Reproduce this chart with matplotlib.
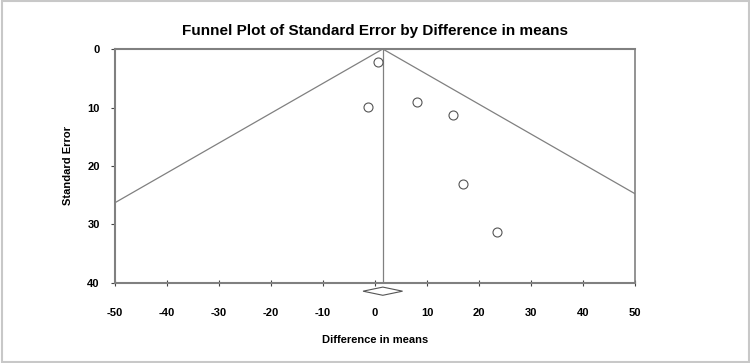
import matplotlib
matplotlib.use("Agg")
import matplotlib.pyplot as plt
from matplotlib.patches import Rectangle, Polygon

plt.rcParams['font.family'] = ['Liberation Sans', 'DejaVu Sans']
plt.rcParams['axes.unicode_minus'] = False

# studies: difference in means and standard error
diff_means = [0.6, -1.4, 8.0, 15.0, 17.0, 23.5]
std_err = [2.3, 9.9, 9.1, 11.2, 23.1, 31.2]

pooled = 1.5        # overall effect
pooled_half = 3.8   # half width of the summary diamond
se_max = 40
x_ticks = [-50, -40, -30, -20, -10, 0, 10, 20, 30, 40, 50]
y_ticks = [0, 10, 20, 30, 40]

grey = '#808080'

fig = plt.figure(figsize=(7.5, 3.63), dpi=100)
ax = fig.add_axes([0.1533, 0.2204, 0.6934, 0.6446])

# funnel lines (95% limits)
ax.plot([pooled - 1.96 * se_max, pooled, pooled + 1.96 * se_max], [se_max, 0, se_max],
        color=grey, lw=0.9)
ax.plot([pooled, pooled], [0, se_max], color=grey, lw=0.9)

ax.scatter(diff_means, std_err, s=42, facecolors='white', edgecolors='#555555',
           linewidths=0.8, zorder=3)

# summary diamond below the axis
dy = 0.7
yd = 41.4
diamond = Polygon([[pooled - pooled_half, yd], [pooled, yd - dy],
                   [pooled + pooled_half, yd], [pooled, yd + dy]],
                  closed=True, facecolor='white', edgecolor='#555555', lw=0.8,
                  clip_on=False)
ax.add_patch(diamond)

ax.set_xlim(-50, 50)
ax.set_ylim(40, 0)
ax.set_xticks(x_ticks)
ax.set_yticks(y_ticks)

for s in ['left', 'bottom', 'right', 'top']:
    ax.spines[s].set_color(grey)
    ax.spines[s].set_linewidth(1.5)
ax.spines['right'].set_linewidth(1.2)

ax.tick_params(axis='x', direction='inout', length=4, color='#444444', pad=16,
               labelsize=8)
ax.tick_params(axis='y', direction='out', length=3, color='#444444', pad=8,
               labelsize=8)
for lab in ax.get_xticklabels() + ax.get_yticklabels():
    lab.set_fontweight('bold')

ax.set_xlabel('Difference in means', fontsize=8, fontweight='bold', labelpad=12)
ax.set_ylabel('Standard Error', fontsize=8, fontweight='bold', labelpad=10)
fig.text(0.5, 0.915, 'Funnel Plot of Standard Error by Difference in means',
         ha='center', va='center', fontsize=11, fontweight='bold')

fig.patches.append(Rectangle((0.002, 0.003), 0.996, 0.994, transform=fig.transFigure,
                             fill=False, edgecolor='#c8c8c8', lw=1.5))

fig.savefig('out.png', dpi=100, facecolor='white')
